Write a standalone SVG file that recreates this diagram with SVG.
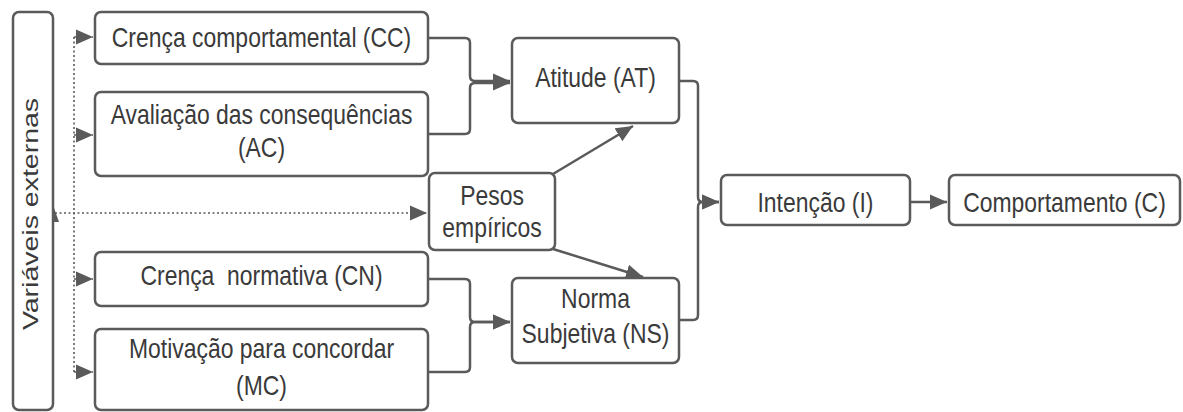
<svg xmlns="http://www.w3.org/2000/svg" width="1183" height="412" viewBox="0 0 1183 412">
<style>
.box{fill:#fff;stroke:#5a5a5a;stroke-width:2.5}
.t{font-family:"Liberation Sans",Arial,sans-serif;font-size:28.5px;fill:#3a3a3a;text-anchor:middle}
.c{fill:none;stroke:#5a5a5a;stroke-width:2.5}
.d{fill:none;stroke:#5a5a5a;stroke-width:1.6;stroke-dasharray:2,2.5}
</style>
<defs>
<marker id="ah" markerUnits="userSpaceOnUse" markerWidth="18" markerHeight="16" refX="17" refY="8" orient="auto">
<path d="M0,0.5 L17,8 L0,15.5 z" fill="#5a5a5a"/>
</marker>
</defs>
<rect width="1183" height="412" fill="#fff"/>
<g id="connectors">
<path class="d" d="M74,37 V372"/>
<path class="d" d="M74,37 H93" marker-end="url(#ah)"/>
<path class="d" d="M74,135 H93" marker-end="url(#ah)"/>
<path class="d" d="M74,279 H93" marker-end="url(#ah)"/>
<path class="d" d="M74,372 H93" marker-end="url(#ah)"/>
<path class="d" d="M55,213 H427" marker-end="url(#ah)"/>
<polygon points="53,205 59,222 47,222" fill="#5a5a5a"/>
<path class="c" d="M428,38 H465 Q470,38 470,43 V76 Q470,81 475,81 H510" marker-end="url(#ah)"/>
<path class="c" d="M428,134 H465 Q470,134 470,129 V88 Q470,83 475,83 H510" marker-end="url(#ah)"/>
<path class="c" d="M428,279 H465 Q470,279 470,284 V317 Q470,322 475,322 H510" marker-end="url(#ah)"/>
<path class="c" d="M428,372 H465 Q470,372 470,367 V327 Q470,322 475,322 H510" marker-end="url(#ah)"/>
<path class="c" d="M679,81 H693 Q698,81 698,86 V197 Q698,202 703,202 H719" marker-end="url(#ah)"/>
<path class="c" d="M679,320 H693 Q698,320 698,315 V207 Q698,202 703,202 H719" marker-end="url(#ah)"/>
<path class="c" d="M910,202 H947" marker-end="url(#ah)"/>
<path class="c" d="M553,174 L633,126" marker-end="url(#ah)"/>
<path class="c" d="M553,249 L643,277" marker-end="url(#ah)"/>
</g>
<g id="n-ve">
<rect class="box" x="13" y="12" width="40" height="398" rx="6"/>
<text class="t" transform="matrix(0 -1 0.805 0 38 214)">Variáveis externas</text>
</g>
<g id="n-cc">
<rect class="box" x="95" y="12" width="333" height="52" rx="6"/>
<text class="t" transform="matrix(0.805 0 0 1 261.5 47)">Crença comportamental (CC)</text>
</g>
<g id="n-ac">
<rect class="box" x="95" y="92" width="333" height="84" rx="6"/>
<text class="t" transform="matrix(0.805 0 0 1 261.5 124)">Avaliação das consequências</text>
<text class="t" transform="matrix(0.805 0 0 1 261.5 157)">(AC)</text>
</g>
<g id="n-pe">
<rect class="box" x="429" y="173" width="126" height="77" rx="6"/>
<text class="t" transform="matrix(0.805 0 0 1 492 205)">Pesos</text>
<text class="t" transform="matrix(0.805 0 0 1 492 237)">empíricos</text>
</g>
<g id="n-cn">
<rect class="box" x="95" y="252" width="333" height="54" rx="6"/>
<text class="t" xml:space="preserve" transform="matrix(0.805 0 0 1 261.5 285)">Crença  normativa (CN)</text>
</g>
<g id="n-mc">
<rect class="box" x="95" y="329" width="333" height="81" rx="6"/>
<text class="t" transform="matrix(0.805 0 0 1 261.5 358)">Motivação para concordar</text>
<text class="t" transform="matrix(0.805 0 0 1 261.5 395)">(MC)</text>
</g>
<g id="n-at">
<rect class="box" x="512" y="38" width="167" height="85" rx="6"/>
<text class="t" transform="matrix(0.805 0 0 1 595.5 87)">Atitude (AT)</text>
</g>
<g id="n-ns">
<rect class="box" x="512" y="278" width="167" height="85" rx="6"/>
<text class="t" transform="matrix(0.805 0 0 1 595.5 308)">Norma</text>
<text class="t" transform="matrix(0.805 0 0 1 595.5 343)">Subjetiva (NS)</text>
</g>
<g id="n-in">
<rect class="box" x="721" y="175" width="189" height="50" rx="6"/>
<text class="t" transform="matrix(0.805 0 0 1 815.5 212)">Intenção (I)</text>
</g>
<g id="n-co">
<rect class="box" x="949" y="175" width="231" height="50" rx="6"/>
<text class="t" transform="matrix(0.805 0 0 1 1064.5 212)">Comportamento (C)</text>
</g>
</svg>
